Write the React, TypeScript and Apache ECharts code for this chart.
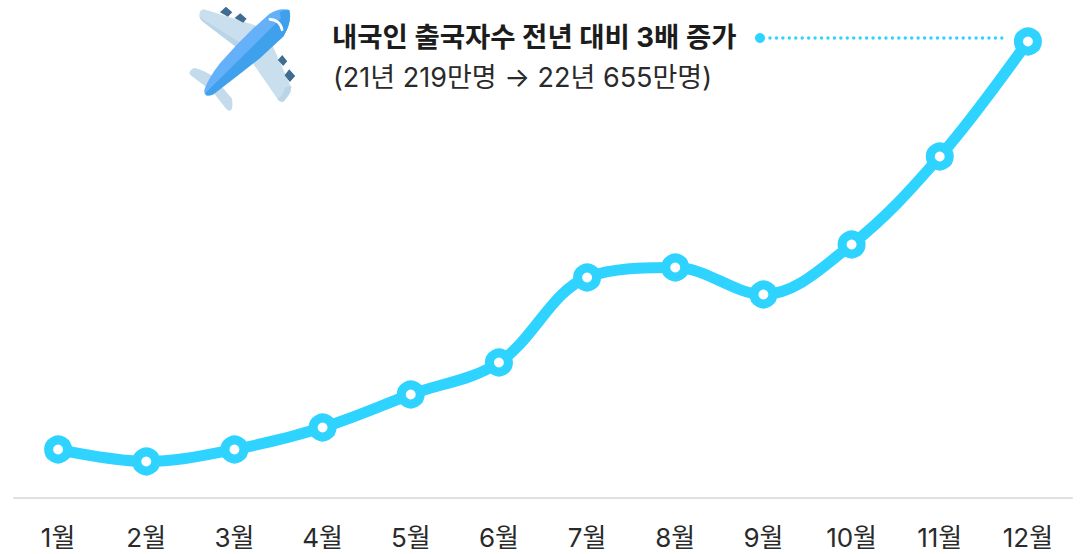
import React, { useEffect, useRef } from "react";
import * as echarts from "echarts";

const months = ["1월", "2월", "3월", "4월", "5월", "6월", "7월", "8월", "9월", "10월", "11월", "12월"];
const values = [48, 36, 48, 70, 103, 135, 220, 230, 203, 253, 341, 456];
const headline = "내국인 출국자수 전년 대비 3배 증가";
const subline = "(21년 219만명 → 22년 655만명)";

const FONT = 'Inter, "Noto Sans CJK KR", "Noto Sans", sans-serif';
const CYAN = "#2ed3ff";

const planeParts: [string, string, string][] = [
  ["planeWing", "#cadfed", "M88 45 Q88 30 102 28 L262 78 L210 150 L95 62 Q88 55 88 45 Z M305 130 L364 262 Q364 272 358 282 L342 304 Q330 310 322 296 L245 185 Z"],
  ["planeWingEdge", "#b9d5e7", "M88 48 Q90 56 95 62 L205 146 L218 132 L96 56 Z M345 262 L364 258 Q365 275 356 286 L342 304 Q330 310 322 296 Q340 290 345 262 Z"],
  ["planeEngine", "#3f6c90", "M168 20 L187 37 L174 50 L150 37 Z M211 40 L230 56 L220 68 L194 54 Z M337 165 L352 184 L340 198 L324 180 Z M358 208 L376 228 L360 246 L344 226 Z"],
  ["planeTail", "#c3dbea", "M58 220 Q60 208 74 204 Q100 210 128 228 L186 296 Q190 320 184 330 Q176 336 168 326 L130 278 L70 232 Q60 226 58 220 Z"],
  ["planeBodyLight", "#65b1f9", "M358 30 Q328 22 298 42 L250 85 L200 135 L150 190 Q115 235 103 270 Q102 285 112 288 Z"],
  ["planeBodyDark", "#3fa1ec", "M358 30 Q368 64 340 110 L270 175 L200 230 L130 284 Q112 292 106 280 Z"],
  ["planeNose", "#3fa1ec", "M330 36 Q345 28 358 30 Q368 64 340 110 Z"],
];

planeParts.forEach(([name, , d]) => {
  echarts.graphic.registerShape(name, echarts.graphic.extendPath(d, {}));
});

export default function App() {
  const ref = useRef<HTMLDivElement>(null);

  useEffect(() => {
    if (!ref.current) return;
    const chart = echarts.init(ref.current, undefined, { renderer: "svg" });
    chart.setOption({
      animation: false,
      backgroundColor: "#ffffff",
      grid: { left: 14, right: 10, top: 17.5, height: 480 },
      xAxis: {
        type: "category",
        data: months,
        boundaryGap: true,
        axisTick: { show: false },
        axisLine: { show: true, lineStyle: { color: "#e0e0e0", width: 2 } },
        axisLabel: { color: "#2a2a2a", fontSize: 26, fontFamily: FONT, margin: 27, interval: 0 },
      },
      yAxis: { type: "value", min: 0, max: 480, show: false, splitLine: { show: false } },
      series: [
        {
          type: "line",
          data: values,
          smooth: 0.35,
          symbol: "circle",
          symbolSize: 19,
          showSymbol: true,
          lineStyle: { color: CYAN, width: 11 },
          itemStyle: { color: "#ffffff", borderColor: CYAN, borderWidth: 9 },
          z: 3,
        },
      ],
      graphic: [
        {
          type: "group",
          x: 170,
          y: 0,
          scaleX: 1 / 3,
          scaleY: 1 / 3,
          children: [
            ...planeParts.map(([name, fill]) => ({ type: name, style: { fill } })),
            {
              type: "arc",
              shape: { cx: 300, cy: 95, r: 37, startAngle: -1.57, endAngle: -0.15 },
              style: { stroke: "#ffffff", lineWidth: 8, fill: "none", lineCap: "round" },
            },
          ],
        },
        {
          type: "text",
          x: 332,
          y: 37,
          style: { text: headline, fontFamily: FONT, fontSize: 27.5, fontWeight: 700, fill: "#1c1c1c", verticalAlign: "middle" },
        },
        {
          type: "text",
          x: 333,
          y: 77,
          style: { text: subline, fontFamily: FONT, fontSize: 27, fontWeight: 400, fill: "#2a2a2a", verticalAlign: "middle" },
        },
        { type: "circle", shape: { cx: 760, cy: 38, r: 5 }, style: { fill: CYAN } },
        {
          type: "line",
          shape: { x1: 770, y1: 38, x2: 1002, y2: 38 },
          style: { stroke: CYAN, lineWidth: 3.4, lineDash: [0.01, 6.43], lineCap: "round" },
        },
      ],
    });
    return () => chart.dispose();
  }, []);

  return <div ref={ref} style={{ position: "fixed", left: 0, top: 0, width: 1082, height: 554 }} />;
}
